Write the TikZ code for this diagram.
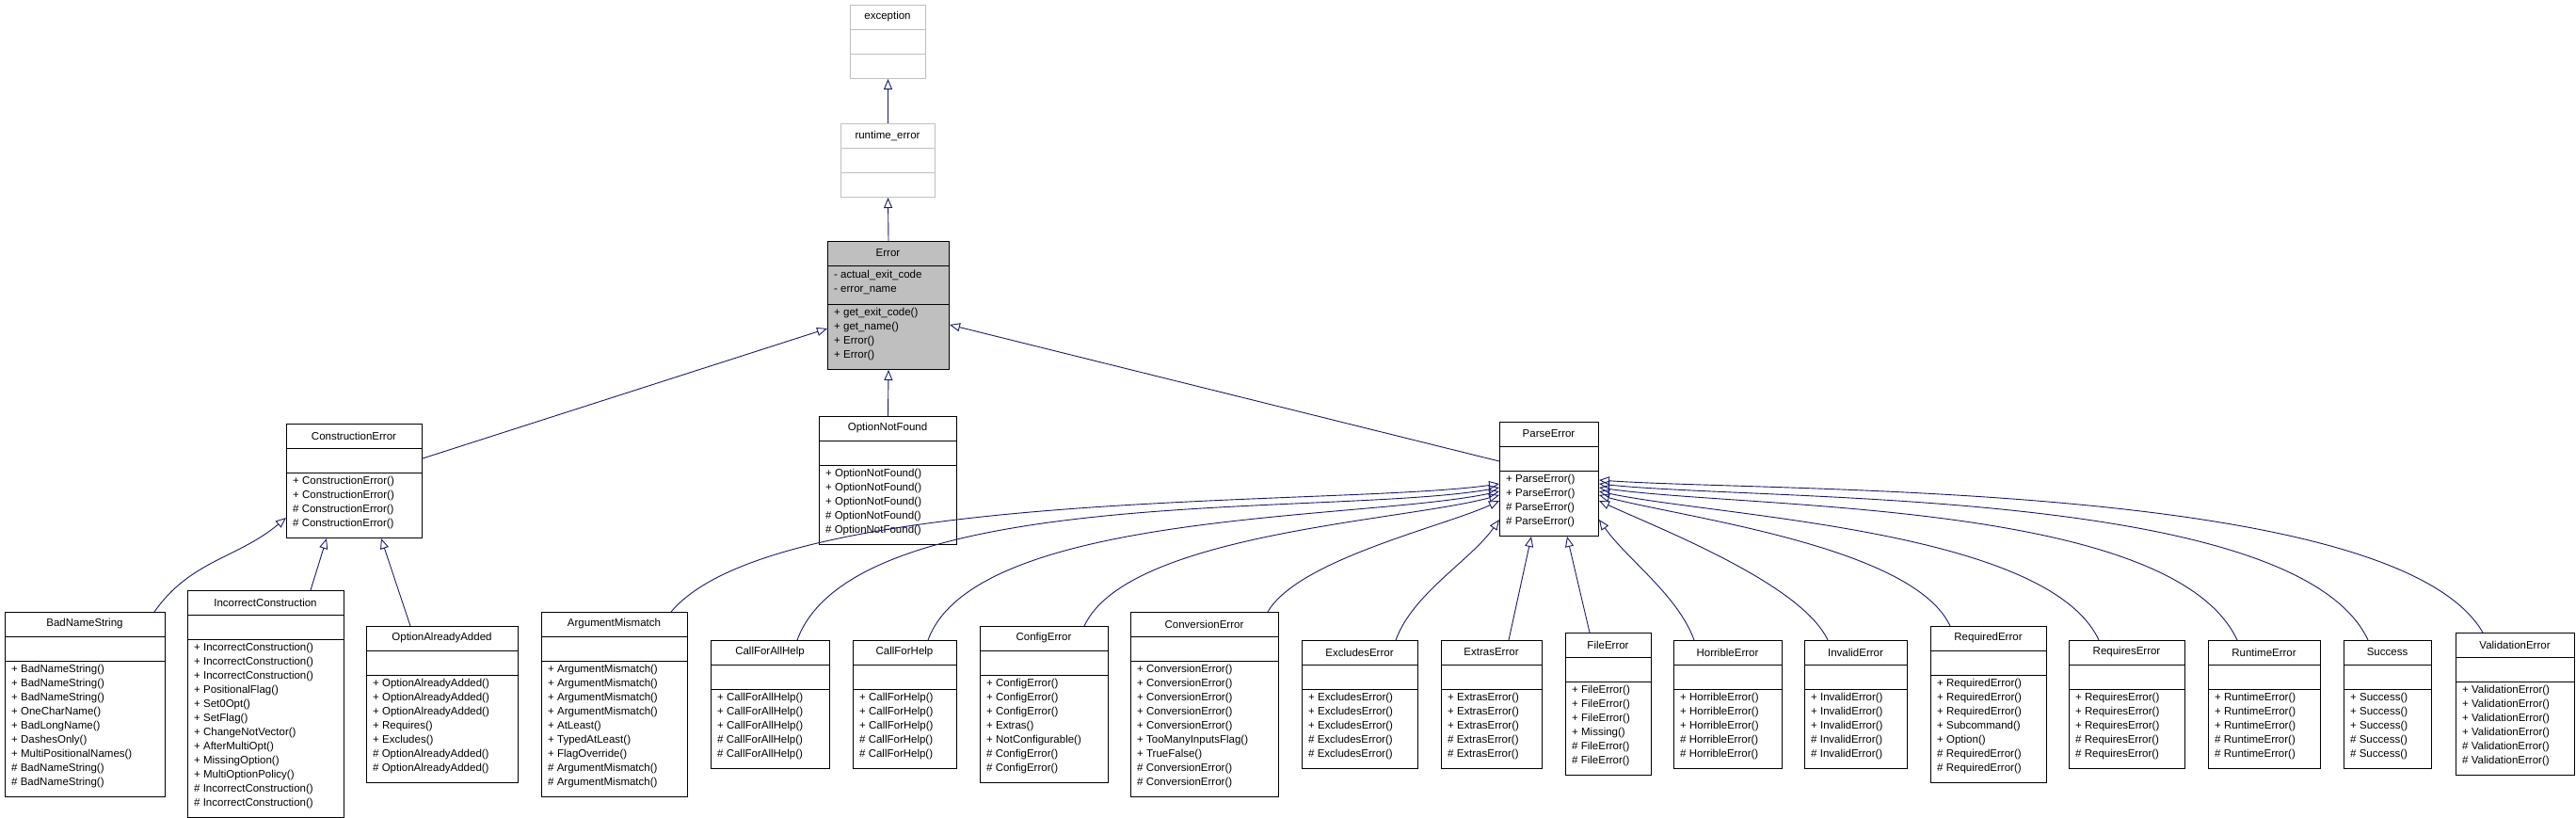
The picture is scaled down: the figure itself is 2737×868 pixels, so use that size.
\documentclass[tikz,border=0pt]{standalone}
\usepackage{fontspec}
\setmainfont{Liberation Sans}
\usetikzlibrary{arrows.meta}
\definecolor{edgeblue}{RGB}{25,25,112}
\definecolor{lgray}{RGB}{191,191,191}
\tikzset{
  cur/.style={draw=black,fill=white,line width=1pt},
  gray/.style={draw=lgray,fill=white,line width=1pt},
  errs/.style={draw=black,fill=lgray,line width=1pt},
  inh/.style={draw=edgeblue,line width=0.9pt,-{Triangle[open,length=11pt,width=9pt]}},
  txt/.style={inner sep=0pt,align=left,font=\fontsize{11.5}{15}\selectfont},
}
\newcommand\umlcls[9]{%
  \pgfmathsetmacro\cw{#3-#2}%
  \pgfmathsetmacro\ah{#6==0 ? 26 : 15*#6+11}%
  \pgfmathsetmacro\mh{#8==0 ? 26 : 15*#8+9}%
  \pgfmathsetmacro\hh{26+\ah+\mh}%
  \pgfmathsetmacro\cx{(#2+#3)/2}%
  \pgfmathsetmacro\ya{#4+26}%
  \pgfmathsetmacro\yb{#4+26+\ah}%
  \node[cur,minimum width=\cw pt,minimum height=\hh pt,anchor=north west,inner sep=0pt] (#1) at (#2,#4) {};
  \node[txt] at (\cx,#4+13) {#5};
  \draw[cur,fill=none] (#2,\ya) -- (#3,\ya);
  \draw[cur,fill=none] (#2,\yb) -- (#3,\yb);
  \node[txt,anchor=north west] at (#2+7,\ya+5) {#7};
  \node[txt,anchor=north west] at (#2+7,\yb+4) {#9};
}
\begin{document}
\begin{tikzpicture}[x=1pt,y=-1pt]
\useasboundingbox (0,0) rectangle (2737,868);
\fill[white] (0,0) rectangle (2737,868);
% top hierarchy
\tikzset{cur/.style={gray}}
\umlcls{exc}{903}{983}{5}{exception}{0}{}{0}{}
\umlcls{rte}{893}{993}{131}{runtime\_error}{0}{}{0}{}
\tikzset{cur/.style={errs}}
\umlcls{err}{879}{1008}{256}{Error}{2}{- actual\_exit\_code\\- error\_name}{4}{+ get\_exit\_code()\\+ get\_name()\\+ Error()\\+ Error()}
\tikzset{cur/.style={draw=black,fill=white,line width=1pt}}
% middle
\umlcls{ce}{304}{448}{450}{ConstructionError}{0}{}{4}{+ ConstructionError()\\+ ConstructionError()\\\# ConstructionError()\\\# ConstructionError()}
\umlcls{onf}{870}{1016}{442}{OptionNotFound}{0}{}{5}{+ OptionNotFound()\\+ OptionNotFound()\\+ OptionNotFound()\\\# OptionNotFound()\\\# OptionNotFound()}
\umlcls{pe}{1593}{1698}{448}{ParseError}{0}{}{4}{+ ParseError()\\+ ParseError()\\\# ParseError()\\\# ParseError()}
% bottom row
\umlcls{bns}{5}{175}{650}{BadNameString}{0}{}{9}{+ BadNameString()\\+ BadNameString()\\+ BadNameString()\\+ OneCharName()\\+ BadLongName()\\+ DashesOnly()\\+ MultiPositionalNames()\\\# BadNameString()\\\# BadNameString()}
\umlcls{ic}{199}{365}{627}{IncorrectConstruction}{0}{}{12}{+ IncorrectConstruction()\\+ IncorrectConstruction()\\+ IncorrectConstruction()\\+ PositionalFlag()\\+ Set0Opt()\\+ SetFlag()\\+ ChangeNotVector()\\+ AfterMultiOpt()\\+ MissingOption()\\+ MultiOptionPolicy()\\\# IncorrectConstruction()\\\# IncorrectConstruction()}
\umlcls{oaa}{389}{550}{665}{OptionAlreadyAdded}{0}{}{7}{+ OptionAlreadyAdded()\\+ OptionAlreadyAdded()\\+ OptionAlreadyAdded()\\+ Requires()\\+ Excludes()\\\# OptionAlreadyAdded()\\\# OptionAlreadyAdded()}
\umlcls{am}{575}{730}{650}{ArgumentMismatch}{0}{}{9}{+ ArgumentMismatch()\\+ ArgumentMismatch()\\+ ArgumentMismatch()\\+ ArgumentMismatch()\\+ AtLeast()\\+ TypedAtLeast()\\+ FlagOverride()\\\# ArgumentMismatch()\\\# ArgumentMismatch()}
\umlcls{cfah}{755}{881}{680}{CallForAllHelp}{0}{}{5}{+ CallForAllHelp()\\+ CallForAllHelp()\\+ CallForAllHelp()\\\# CallForAllHelp()\\\# CallForAllHelp()}
\umlcls{cfh}{906}{1016}{680}{CallForHelp}{0}{}{5}{+ CallForHelp()\\+ CallForHelp()\\+ CallForHelp()\\\# CallForHelp()\\\# CallForHelp()}
\umlcls{cfg}{1041}{1177}{665}{ConfigError}{0}{}{7}{+ ConfigError()\\+ ConfigError()\\+ ConfigError()\\+ Extras()\\+ NotConfigurable()\\\# ConfigError()\\\# ConfigError()}
\umlcls{cv}{1201}{1358}{650}{ConversionError}{0}{}{9}{+ ConversionError()\\+ ConversionError()\\+ ConversionError()\\+ ConversionError()\\+ ConversionError()\\+ TooManyInputsFlag()\\+ TrueFalse()\\\# ConversionError()\\\# ConversionError()}
\umlcls{exl}{1383}{1506}{680}{ExcludesError}{0}{}{5}{+ ExcludesError()\\+ ExcludesError()\\+ ExcludesError()\\\# ExcludesError()\\\# ExcludesError()}
\umlcls{ext}{1531}{1638}{680}{ExtrasError}{0}{}{5}{+ ExtrasError()\\+ ExtrasError()\\+ ExtrasError()\\\# ExtrasError()\\\# ExtrasError()}
\umlcls{fe}{1663}{1754}{672}{FileError}{0}{}{6}{+ FileError()\\+ FileError()\\+ FileError()\\+ Missing()\\\# FileError()\\\# FileError()}
\umlcls{he}{1778}{1893}{680}{HorribleError}{0}{}{5}{+ HorribleError()\\+ HorribleError()\\+ HorribleError()\\\# HorribleError()\\\# HorribleError()}
\umlcls{ie}{1917}{2026}{680}{InvalidError}{0}{}{5}{+ InvalidError()\\+ InvalidError()\\+ InvalidError()\\\# InvalidError()\\\# InvalidError()}
\umlcls{rqd}{2051}{2174}{665}{RequiredError}{0}{}{7}{+ RequiredError()\\+ RequiredError()\\+ RequiredError()\\+ Subcommand()\\+ Option()\\\# RequiredError()\\\# RequiredError()}
\umlcls{rqs}{2198}{2321}{680}{RequiresError}{0}{}{5}{+ RequiresError()\\+ RequiresError()\\+ RequiresError()\\\# RequiresError()\\\# RequiresError()}
\umlcls{rt}{2346}{2465}{680}{RuntimeError}{0}{}{5}{+ RuntimeError()\\+ RuntimeError()\\+ RuntimeError()\\\# RuntimeError()\\\# RuntimeError()}
\umlcls{suc}{2490}{2583}{680}{Success}{0}{}{5}{+ Success()\\+ Success()\\+ Success()\\\# Success()\\\# Success()}
\umlcls{val}{2609}{2735}{672}{ValidationError}{0}{}{6}{+ ValidationError()\\+ ValidationError()\\+ ValidationError()\\+ ValidationError()\\\# ValidationError()\\\# ValidationError()}
% edges: top
\draw[inh] (rte.north) -- (exc.south);
\draw[inh] (err.north) -- (rte.south);
\draw[inh] (onf.north) -- (err.south);
\draw[inh] ([yshift=-37pt]ce.north east) -- ([yshift=-93pt]err.north west);
\draw[inh] ([yshift=-42pt]pe.north west) -- ([yshift=-89pt]err.north east);
% construction children
\draw[inh] ([xshift=159pt]bns.north west) to[out=55,in=220] ([yshift=-100pt]ce.north west);
\draw[inh] ([xshift=131pt]ic.north west) -- ([xshift=43pt]ce.south west);
\draw[inh] ([xshift=47pt]oaa.north west) -- ([xshift=101pt]ce.south west);
% parse children (left side)
\draw[inh] ([xshift=138pt]am.north west) to[out=50,in=188,looseness=0.5] ([yshift=-66pt]pe.north west);
\draw[inh] ([xshift=92pt]cfah.north west) to[out=70,in=190,looseness=0.6] ([yshift=-70pt]pe.north west);
\draw[inh] ([xshift=80pt]cfh.north west) to[out=70,in=192,looseness=0.6] ([yshift=-74pt]pe.north west);
\draw[inh] ([xshift=111pt]cfg.north west) to[out=65,in=195,looseness=0.6] ([yshift=-78pt]pe.north west);
\draw[inh] ([xshift=146pt]cv.north west) to[out=60,in=205,looseness=0.6] ([yshift=-84pt]pe.north west);
\draw[inh] ([xshift=100pt]exl.north west) to[out=70,in=235,looseness=0.8] ([yshift=-104pt]pe.north west);
\draw[inh] ([xshift=72pt]ext.north west) -- ([xshift=34pt]pe.south west);
\draw[inh] ([xshift=26pt]fe.north west) -- ([xshift=72pt]pe.south west);
\draw[inh] ([xshift=22pt]he.north west) to[out=110,in=-55,looseness=0.8] ([yshift=-104pt]pe.north east);
% parse children (right side)
\draw[inh] ([xshift=25pt]ie.north west) to[out=115,in=-25,looseness=0.6] ([yshift=-84pt]pe.north east);
\draw[inh] ([xshift=21pt]rqd.north west) to[out=115,in=-15,looseness=0.6] ([yshift=-78pt]pe.north east);
\draw[inh] ([xshift=32pt]rqs.north west) to[out=115,in=-12,looseness=0.6] ([yshift=-74pt]pe.north east);
\draw[inh] ([xshift=31pt]rt.north west) to[out=115,in=-8,looseness=0.6] ([yshift=-70pt]pe.north east);
\draw[inh] ([xshift=26pt]suc.north west) to[out=115,in=-6,looseness=0.55] ([yshift=-66pt]pe.north east);
\draw[inh] ([xshift=29pt]val.north west) to[out=120,in=-4,looseness=0.5] ([yshift=-62pt]pe.north east);
\end{tikzpicture}
\end{document}
